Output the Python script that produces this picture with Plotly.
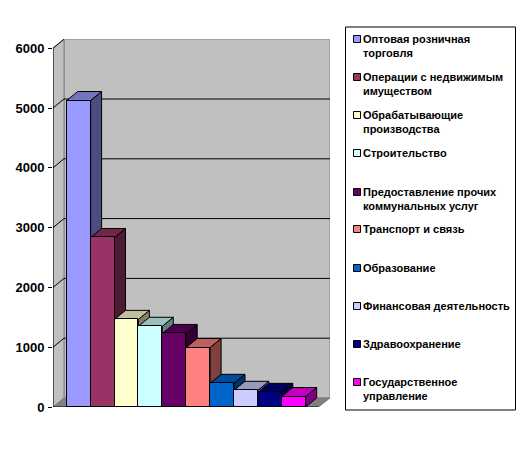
import plotly.graph_objects as go

categories = ["Оптовая розничная<br>торговля", "Операции с недвижимым<br>имуществом",
              "Обрабатывающие<br>производства", "Строительство",
              "Предоставление прочих<br>коммунальных услуг", "Транспорт и связь",
              "Образование", "Финансовая деятельность", "Здравоохранение",
              "Государственное<br>управление"]
values = [5125, 2835, 1465, 1350, 1230, 995, 396, 279, 245, 175]
colors = ["#9999FF", "#993366", "#FFFFCC", "#CCFFFF", "#660066",
          "#FF8080", "#0066CC", "#CCCCFF", "#000080", "#FF00FF"]
y_ticks = [0, 1000, 2000, 3000, 4000, 5000, 6000]

W, H = 528, 455
L, R, T, B = 53, 330, 39, 407          # plot area in pixels
PX_PER_CAT = 23.9
PX_PER_UNIT = 59.8 / 1000
DX = 11 / PX_PER_CAT                   # 3-D depth in data units
DY = 9 / PX_PER_UNIT
X0 = (L - 78.65) / PX_PER_CAT
X1 = (R - 78.65) / PX_PER_CAT
Y1 = (B - T) / PX_PER_UNIT
X_FRONT_END = (318.5 - 78.65) / PX_PER_CAT
FONT = "Liberation Sans"


def shade(hex_color, f):
    r, g, b = (int(hex_color[i:i + 2], 16) for i in (1, 3, 5))
    return f"rgb({r * f:.0f},{g * f:.0f},{b * f:.0f})"


def poly(xs, ys, fill, line="black", width=1, layer="below"):
    path = "M" + "L".join(f"{x},{y}" for x, y in zip(xs, ys)) + "Z"
    return dict(type="path", path=path, fillcolor=fill, xref="x", yref="y", layer=layer,
                line=dict(color=line, width=width))


def seg(x0, y0, x1, y1, color="black"):
    return dict(type="line", x0=x0, y0=y0, x1=x1, y1=y1, xref="x", yref="y", layer="below",
                line=dict(color=color, width=1))


fig = go.Figure()

# walls and floor
shapes = [
    poly([X0 + DX, X1, X1, X0 + DX], [DY, DY, Y1, Y1], "#C0C0C0", "#808080"),
    poly([X0, X0 + DX, X0 + DX, X0], [0, DY, 6000 + DY, 6000], "#C0C0C0", "#808080"),
    poly([X0, X0 + DX, X1, X_FRONT_END], [0, DY, DY, 0], "#808080", "#808080"),
]
for t in y_ticks[1:]:
    shapes.append(seg(X0, t, X0 + DX, t + DY))
    if t < 6000:
        shapes.append(seg(X0 + DX, t + DY, X1, t + DY))
shapes.append(seg(X0, 0, X0, 6000))
shapes.append(seg(X0, 0, X_FRONT_END, 0))
shapes.append(seg(X_FRONT_END, 0, X_FRONT_END, -4 / PX_PER_UNIT))
shapes.append(seg(X0, 0, X0, -4 / PX_PER_UNIT))

# right sides and tops of the bars, left to right
for i, (v, c) in enumerate(zip(values, colors)):
    l, r = i - 0.5, i + 0.5
    fig.add_trace(go.Scatter(x=[r, r + DX, r + DX, r, r], y=[0, DY, v + DY, v, 0],
                             mode="lines", fill="toself", fillcolor=shade(c, 0.5),
                             line=dict(color="black", width=1),
                             showlegend=False, hoverinfo="skip"))
    fig.add_trace(go.Scatter(x=[l, l + DX, r + DX, r, l], y=[v, v + DY, v + DY, v, v],
                             mode="lines", fill="toself", fillcolor=shade(c, 0.75),
                             line=dict(color="black", width=1),
                             showlegend=False, hoverinfo="skip"))

# bar fronts on an overlaid pair of axes, so they cover the sides
fig.add_trace(go.Bar(x=list(range(len(values))), y=values, width=1,
                     marker=dict(color=colors, line=dict(color="black", width=1)),
                     xaxis="x2", yaxis="y2", showlegend=False,
                     hovertext=[c.replace("<br>", " ") for c in categories], hoverinfo="text+y"))


# legend
def px(x):
    return (x - L) / (R - L)


def py(y):
    return (B - y) / (B - T)


shapes.append(dict(type="rect", xref="paper", yref="paper", x0=px(345.5), x1=px(515.5),
                   y0=py(410), y1=py(27), fillcolor="white", line=dict(color="black", width=1),
                   layer="above"))
annotations = []
row_y = [39, 77, 115, 153, 192, 229, 268, 306, 344, 382]
for cat, c, y in zip(categories, colors, row_y):
    shapes.append(dict(type="rect", xref="paper", yref="paper", x0=px(353.5), x1=px(360.5),
                       y0=py(y + 3.5), y1=py(y - 3.5), fillcolor=c,
                       line=dict(color="black", width=1), layer="above"))
    annotations.append(dict(text=cat, xref="paper", yref="paper", x=px(361), y=py(y - 8),
                            xanchor="left", yanchor="top", align="left", showarrow=False,
                            font=dict(family=FONT, size=11, color="black", weight="bold")))

axis_off = dict(visible=False, fixedrange=True)
fig.update_layout(
    width=W, height=H, margin=dict(l=L, r=W - R, t=T, b=H - B),
    paper_bgcolor="white", plot_bgcolor="white", showlegend=False, bargap=0,
    shapes=shapes, annotations=annotations,
    xaxis=dict(range=[X0, X1], **axis_off),
    yaxis=dict(range=[0, Y1], tickmode="array", tickvals=y_ticks, ticks="outside", ticklen=4,
               tickcolor="black", tickwidth=1, showgrid=False, zeroline=False, showline=False,
               ticklabelstandoff=1, fixedrange=True,
               tickfont=dict(family=FONT, size=13, color="black", weight="bold")),
    xaxis2=dict(range=[X0, X1], overlaying="x", **axis_off),
    yaxis2=dict(range=[0, Y1], overlaying="y", **axis_off),
)

fig.write_html("out.html", config=dict(displayModeBar=False),
               post_script="document.body.style.margin='0';document.body.style.overflow='hidden';")
